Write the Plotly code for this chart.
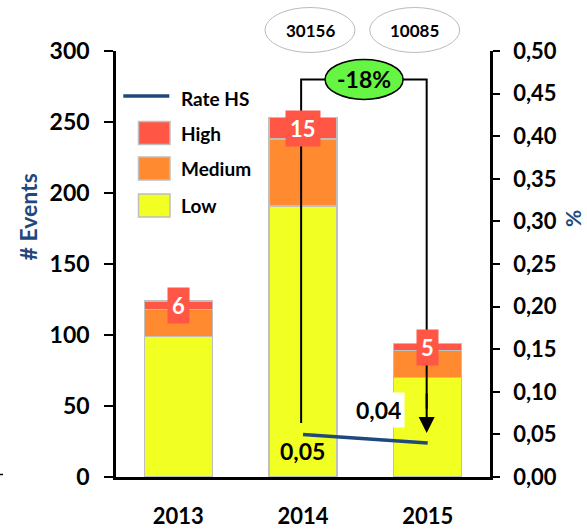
import plotly.graph_objects as go

# ---- data ----
years = ["2013", "2014", "2015"]
low = [99, 191, 70]
medium = [19, 47, 19]
high = [6, 15, 5]
rate_hs = [None, 0.05, 0.04]
rate_labels = [None, "0,05", "0,04"]
exposure = ["30156", "10085"]
change_label = "-18%"

left_ticks = [0, 50, 100, 150, 200, 250, 300]
right_ticks = [0.0, 0.05, 0.10, 0.15, 0.20, 0.25, 0.30, 0.35, 0.40, 0.45, 0.50]

C_HIGH = "#FF5646"
C_MED = "#FF8A30"
C_LOW = "#F2FF22"
C_LINE = "#1F497D"
C_EDGE = "#BFBFBF"
FONT = "Lato"

# numeric positions of the year categories
xpos = list(range(len(years)))

# plot-area geometry (pixels) for placing decorations
W, H = 587, 529
L, R, T, B = 116, 97, 51, 52
PW, PH = W - L - R, H - T - B


def px(xp):
    return (xp - L) / PW


def py(yp):
    return (H - B - yp) / PH


fig = go.Figure()

bar_style = dict(width=0.545, marker_line_color=C_EDGE, marker_line_width=1.5,
                 showlegend=False, hoverinfo="skip")
fig.add_trace(go.Bar(x=xpos, y=low, name="Low", marker_color=C_LOW, **bar_style))
fig.add_trace(go.Bar(x=xpos, y=medium, name="Medium", marker_color=C_MED, **bar_style))
fig.add_trace(go.Bar(x=xpos, y=high, name="High", marker_color=C_HIGH, **bar_style))

fig.add_trace(go.Scatter(x=xpos, y=rate_hs, name="Rate HS", mode="lines",
                         line=dict(color=C_LINE, width=3.5), yaxis="y2",
                         showlegend=False, connectgaps=False))

annotations = []
shapes = []
centered = dict(xanchor="center", yanchor="middle", showarrow=False)

# high-severity count labels on the top segment
for i in xpos:
    mid = low[i] + medium[i] + high[i] / 2
    annotations.append(dict(x=i, y=mid, xref="x", yref="y", text=str(high[i]),
                            bgcolor=C_HIGH, borderpad=4,
                            font=dict(family=FONT, size=22, color="white", weight="bold"),
                            **centered))

# rate labels
annotations.append(dict(x=1, y=rate_hs[1], xref="x", yref="y2", text=rate_labels[1],
                        yshift=-17, xshift=-1,
                        font=dict(family=FONT, size=23, color="black", weight="bold"),
                        **centered))
annotations.append(dict(x=2, y=rate_hs[2], xref="x", yref="y2", text=rate_labels[2],
                        yshift=33, xshift=-49, bgcolor="white", borderpad=3,
                        font=dict(family=FONT, size=23, color="black", weight="bold"),
                        **centered))

# bracket from 2014 to 2015 with arrow
top_y = 280
shapes.append(dict(type="path", xref="x", yref="y",
                   path=f"M 0.985,38 L 0.985,{top_y} L 1.992,{top_y} L 1.992,48",
                   line=dict(color="black", width=2)))
annotations.append(dict(x=1.992, y=31, xref="x", yref="y", ax=1.992, ay=60,
                        axref="x", ayref="y", text="", showarrow=True,
                        arrowhead=2, arrowsize=1.6, arrowwidth=2, arrowcolor="black"))

# change ellipse
shapes.append(dict(type="circle", xref="x", yref="y", xsizemode="pixel", ysizemode="pixel",
                   xanchor=1.49, yanchor=top_y, x0=-39, x1=39, y0=-20, y1=20,
                   fillcolor="#66F542", line=dict(color="black", width=1.5)))
annotations.append(dict(x=1.49, y=top_y, xref="x", yref="y", text=change_label,
                        font=dict(family=FONT, size=23, color="black", weight="bold"),
                        **centered))

# exposure ellipses above the chart
for cx, label in zip([310, 414.7], exposure):
    shapes.append(dict(type="circle", xref="paper", yref="paper",
                       xsizemode="pixel", ysizemode="pixel",
                       xanchor=px(cx), yanchor=py(30), x0=-45, x1=45, y0=-22.5, y1=22.5,
                       fillcolor="white", line=dict(color="#BBBBBB", width=1)))
    annotations.append(dict(x=px(cx), y=py(30), xref="paper", yref="paper", text=label,
                            font=dict(family=FONT, size=17, color="black", weight="bold"),
                            **centered))

# legend
shapes.append(dict(type="line", xref="paper", yref="paper",
                   x0=px(123.3), x1=px(169.3), y0=py(96), y1=py(96),
                   line=dict(color=C_LINE, width=3.5)))
legend_items = [("Rate HS", None, 98), ("High", C_HIGH, 133), ("Medium", C_MED, 168.5),
                ("Low", C_LOW, 205.5)]
for name, col, cy in legend_items:
    if col is not None:
        shapes.append(dict(type="rect", xref="paper", yref="paper",
                           x0=px(138.5), x1=px(170), y0=py(cy - 11.5), y1=py(cy + 11.5),
                           fillcolor=col, line=dict(color=C_EDGE, width=1.5)))
    annotations.append(dict(x=px(179), y=py(cy), xref="paper", yref="paper", text=name,
                            xanchor="left", yanchor="middle", showarrow=False,
                            font=dict(family=FONT, size=19, color="black", weight="bold")))

# axis titles
annotations.append(dict(x=px(27), y=py(217.5), xref="paper", yref="paper", text="# Events",
                        textangle=-90,
                        font=dict(family=FONT, size=23, color=C_LINE, weight="bold"),
                        **centered))
annotations.append(dict(x=px(572), y=py(219), xref="paper", yref="paper", text="%",
                        textangle=-90,
                        font=dict(family=FONT, size=21, color=C_LINE, weight="bold"),
                        **centered))

# small stray dash at the far left
shapes.append(dict(type="line", xref="paper", yref="paper",
                   x0=px(0), x1=px(3), y0=py(474.5), y1=py(474.5),
                   line=dict(color="black", width=1.5)))

tick_font = dict(family=FONT, size=23, color="black", weight="bold")
right_font = dict(family=FONT, size=22, color="black", weight="bold")

fig.update_layout(
    width=W, height=H,
    margin=dict(l=L, r=R, t=T, b=B, autoexpand=False),
    paper_bgcolor="white", plot_bgcolor="white",
    barmode="stack",
    separators=", ",
    showlegend=False,
    xaxis=dict(range=[-0.5, 2.5], tickvals=xpos, ticktext=years, showline=True,
               linecolor="black", linewidth=2.5, ticks="", tickfont=right_font,
               ticklabelstandoff=18, showgrid=False, zeroline=False, fixedrange=True),
    yaxis=dict(range=[0, 300], tickvals=left_ticks, showline=True, linecolor="black",
               linewidth=2.5, ticks="outside", ticklen=9, tickwidth=2, tickcolor="black",
               tickfont=tick_font, showgrid=False, zeroline=False, ticklabelstandoff=10),
    yaxis2=dict(range=[0, 0.5], tickvals=right_ticks, tickformat=".2f", overlaying="y",
                side="right", showline=True, linecolor="black", linewidth=2.5,
                ticks="outside", ticklen=7, tickwidth=2, tickcolor="black",
                tickfont=right_font, showgrid=False, zeroline=False, ticklabelstandoff=9),
    annotations=annotations,
    shapes=shapes,
)

fig.write_html("out.html")
